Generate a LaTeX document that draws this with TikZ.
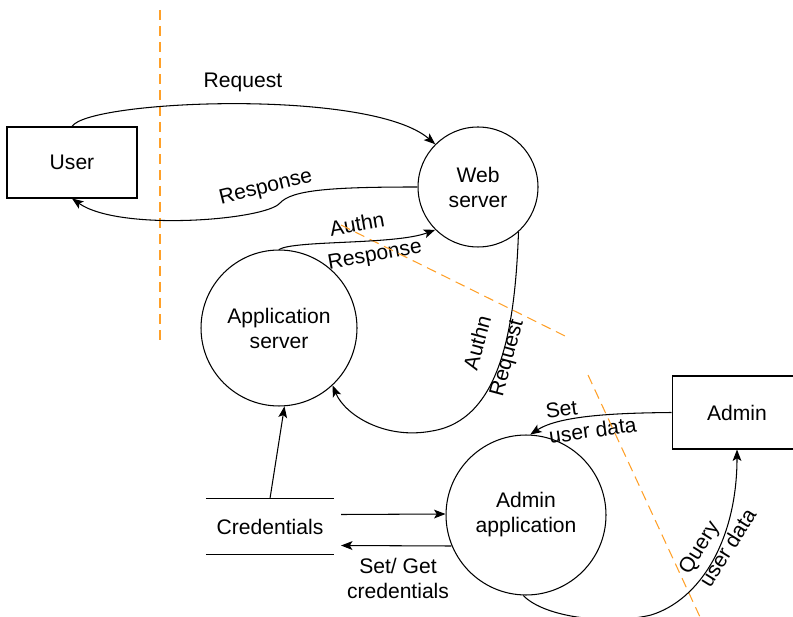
\documentclass[tikz,border=0pt]{standalone}
\usepackage{fontspec}
\setmainfont{Liberation Sans}
\usetikzlibrary{arrows.meta}

\begin{document}
\begin{tikzpicture}[x=0.02cm, y=-0.02cm, font=\fontsize{12}{14.2}\selectfont, line width=0.6pt,
		>={Stealth[length=6.5pt, width=5pt, inset=1.5pt]},
		c/.style={circle, draw, inner sep=0pt, align=center},
		b/.style={rectangle, draw, inner sep=0pt, minimum width=2.6cm},
		l/.style={inner sep=1pt, align=center},
		d/.style={draw={rgb,255:red,255;green,160;blue,40}, dash pattern=on 5.7pt off 3.4pt}]
		\useasboundingbox (0,0) rectangle (793,617);
		\clip (0,0) rectangle (793,617);

		\node[b, minimum height=1.42cm] (user) at (72,162.5) {User};
		\node[c, minimum size=2.4cm] (web) at (478,187) {Web\\server};
		\node[c, minimum size=3.12cm] (app) at (279,328) {Application\\server};
		\node[c, minimum size=3.2cm] (adminapp) at (526,515) {Admin\\application};
		\node[b, minimum height=1.46cm] (admin) at (737,412.5) {Admin};
		\node[inner sep=0pt, minimum width=2.54cm, minimum height=1.1cm] (cred) at (270,526.5) {Credentials};
		\draw (cred.north west) -- (cred.north east) (cred.south west) -- (cred.south east);

		\node[l] (req_label) at (243,82) {Request};
		\node[l, rotate=14] (resp_label) at (266,188) {Response};
		\node[l, rotate=10] (authn_label) at (357,224) {Authn};
		\node[l, rotate=10] (authresp_label) at (375,256) {Response};
		\node[l, rotate=75] (authn2_label) at (477,343) {Authn};
		\node[l, rotate=75] (authreq_label) at (508,358) {Request};
		\node[l, align=left, rotate=8] (set_label) at (591,418) {Set\\user data};
		\node[l, align=left, rotate=58] (query_label) at (717,541) {Query\\user data};
		\node[l] (cred_label) at (398,578) {Set/ Get\\credentials};

		\draw[d] (160,10) -- (160,345);
		\draw[d] (341,225) -- (565,336);
		\draw[d] (588,375) -- (700,617);

		\draw[->] (user.north) .. controls (88,100) and (370,88) .. (web.135);
		\draw[->] (web.west) .. controls (330,187) and (292,190) .. (280,203) .. controls (266,220) and (120,232) .. (user.south);
		\draw[->] (app.north) .. controls (295,240) and (395,245) .. (web.225);
		\draw[->] (web.-48) .. controls (515,330) and (500,420) .. (432,431) .. controls (385,440) and (345,415) .. (app.-47);
		\draw[->] (cred.north) -- (app.-86);
		\draw[->] ([shift={(7,-12)}]cred.east) -- ([shift={(0,-1)}]adminapp.west);
		\draw[<-] ([shift={(7,19)}]cred.east) -- ([shift={(6,31)}]adminapp.west);
		\draw[->] (admin.west) .. controls (620,413) and (560,415) .. (adminapp.87);
		\draw[->] (adminapp.-92) .. controls (545,618) and (610,625) .. (651,615) .. controls (700,600) and (737,540) .. (admin.south);
	\end{tikzpicture}
\end{document}
